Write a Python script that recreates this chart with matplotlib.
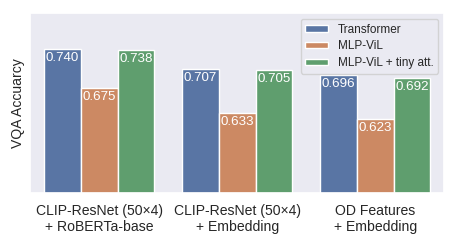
import matplotlib
matplotlib.use("Agg")
import matplotlib.pyplot as plt
import numpy as np
import seaborn as sns

sns.set_theme(style="darkgrid")
plt.rcParams['font.family'] = ['Liberation Sans', 'DejaVu Sans']

groups = ["CLIP-ResNet (50×4)\n+ RoBERTa-base",
          "CLIP-ResNet (50×4)\n+ Embedding",
          "OD Features\n+ Embedding"]
models = ["Transformer", "MLP-ViL", "MLP-ViL + tiny att."]
transformer = [0.740, 0.707, 0.696]
mlp_vil = [0.675, 0.633, 0.623]
mlp_vil_att = [0.738, 0.705, 0.692]
colors = [sns.desaturate(c, 0.75) for c in sns.color_palette("deep", 3)]

fig = plt.figure(figsize=(4.57, 2.46), dpi=100)
ax = fig.add_axes([0.066, 0.215, 0.906, 0.732])

x = np.arange(len(groups))
w = 0.8 / 3
for i, (name, vals) in enumerate(zip(models, [transformer, mlp_vil, mlp_vil_att])):
    pos = x + (i - 1) * w
    ax.bar(pos, vals, width=w, color=colors[i], edgecolor="white", linewidth=1, label=name)
    for p, v in zip(pos, vals):
        ax.text(p, v - 0.005, "%.3f" % v, ha="center", va="top", color="white", fontsize=9.6)

ax.set_xlim(-0.5, 2.5)
ax.set_ylim(0.5, 0.8)
ax.set_yticks([])
ax.set_xticks(x)
ax.set_xticklabels(groups, fontsize=10.1)
ax.tick_params(axis="x", pad=2)
ax.set_ylabel("VQA Accuarcy", fontsize=10.1)
ax.grid(False)
ax.legend(loc="upper right", fontsize=8.5, frameon=True, handlelength=1.9,
          handleheight=0.45, handletextpad=0.85, labelspacing=0.4)

fig.savefig("out.png", dpi=100)
